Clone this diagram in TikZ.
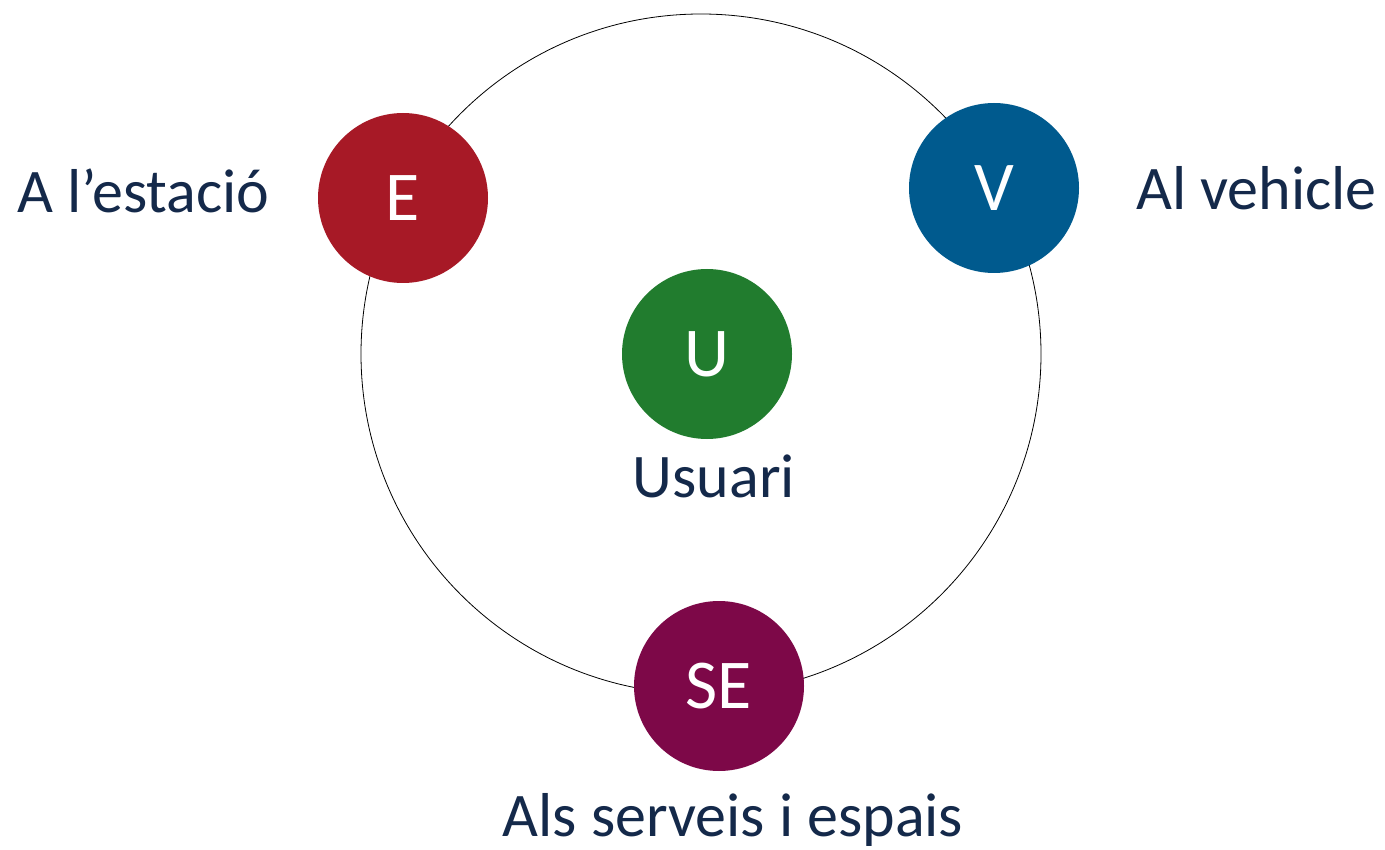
\documentclass[tikz,border=0pt]{standalone}
\usepackage{fontspec}
\setmainfont{Carlito}
\usepackage{xcolor}
\definecolor{estred}{HTML}{A71926}
\definecolor{vehblue}{HTML}{005A8E}
\definecolor{usrgreen}{HTML}{217C2E}
\definecolor{serpurple}{HTML}{7D0848}
\definecolor{labnavy}{HTML}{14294A}

\begin{document}
\begin{tikzpicture}[x=1pt, y=-1pt,
  dot/.style={circle, inner sep=0pt, minimum size=170pt, text=white, font=\fontsize{70}{80}\selectfont},
  lab/.style={text=labnavy, inner sep=0pt, font=\fontsize{62}{70}\selectfont}]
  \useasboundingbox (0,0) rectangle (1385,850);
  % outer ring
  \node[draw, black, line width=0.8pt, circle, inner sep=0pt, minimum size=680pt] (ring) at (701,354) {};
  % the four discs
  \node[dot, fill=estred] (E) at (403,198) {E};
  \node[dot, fill=vehblue] (V) at (994,188) {V};
  \node[dot, fill=usrgreen] (U) at (707,354) {U};
  \node[dot, fill=serpurple] (SE) at (719,686) {SE};
  % labels
  \node[lab, anchor=base west] (estacio) at (17,213) {A l’estació};
  \node[lab, anchor=base east] (vehicle) at (1377,210) {Al vehicle};
  \node[lab, anchor=base] (usuari) at (714,497) {Usuari};
  \node[lab, anchor=base] (serveis) at (733,836) {Als serveis i espais};
\end{tikzpicture}
\end{document}
